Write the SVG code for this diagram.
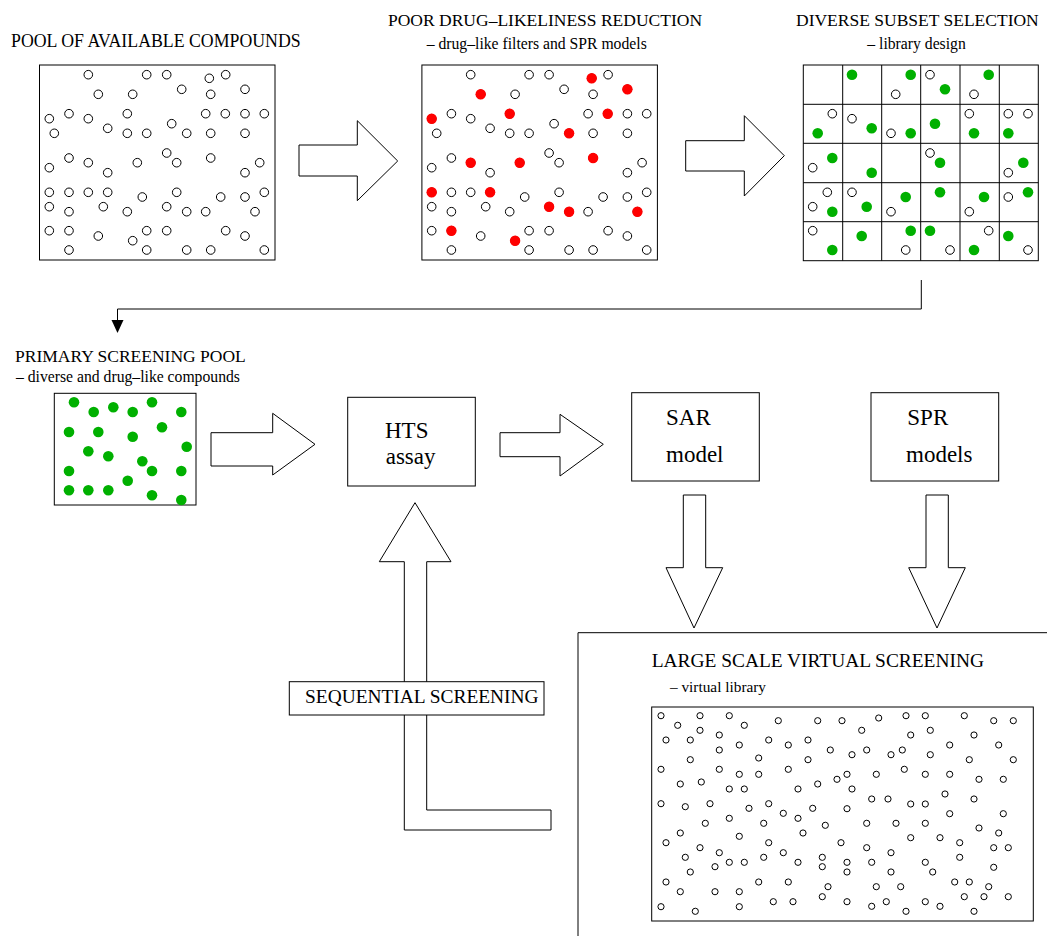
<svg xmlns="http://www.w3.org/2000/svg" xmlns:xlink="http://www.w3.org/1999/xlink" width="1047" height="936" viewBox="0 0 1047 936">
  <style>
    .box{fill:#fff;stroke:#000;stroke-width:1}
    .line{fill:none;stroke:#000;stroke-width:1}
    .blk{fill:#fff;stroke:#000;stroke-width:1}
    .red{fill:#ff0000}
    .grn{fill:#00b000}
    .sm{fill:#fff;stroke:#000;stroke-width:1}
    .t{font-family:'Liberation Serif','Times New Roman',serif;fill:#000}
    .title{font-size:17.5px}
    .sub{font-size:15.7px}
    .lbl{font-size:23px}
    .big{font-size:19.4px}
    .fat{fill:#fff;stroke:#000;stroke-width:1}
  </style>
  <defs>
    <!-- the compound layout shared by the first two panels -->
    <g id="pool-dots">
      <circle class="blk" cx="88.3" cy="74.7" r="4.3"/><circle class="blk" cx="146.7" cy="74.7" r="4.3"/><circle class="blk" cx="166.7" cy="74.7" r="4.3"/><circle class="blk" cx="209.3" cy="78.3" r="4.3"/><circle class="blk" cx="225.7" cy="74.7" r="4.3"/>
      <circle class="blk" cx="98.3" cy="94.3" r="4.3"/><circle class="blk" cx="132.7" cy="94.3" r="4.3"/><circle class="blk" cx="181.7" cy="89.3" r="4.3"/><circle class="blk" cx="210.7" cy="94.3" r="4.3"/><circle class="blk" cx="245" cy="89.3" r="4.3"/>
      <circle class="blk" cx="49.3" cy="118.7" r="4.3"/><circle class="blk" cx="69" cy="113.7" r="4.3"/><circle class="blk" cx="88.3" cy="118.7" r="4.3"/><circle class="blk" cx="127.3" cy="113.7" r="4.3"/><circle class="blk" cx="205.7" cy="113.7" r="4.3"/><circle class="blk" cx="225.3" cy="113.7" r="4.3"/><circle class="blk" cx="245" cy="113.7" r="4.3"/><circle class="blk" cx="264.3" cy="113.7" r="4.3"/>
      <circle class="blk" cx="54.3" cy="133.3" r="4.3"/><circle class="blk" cx="107.7" cy="128.3" r="4.3"/><circle class="blk" cx="127.3" cy="133.3" r="4.3"/><circle class="blk" cx="146.7" cy="133.3" r="4.3"/><circle class="blk" cx="171.7" cy="123.7" r="4.3"/><circle class="blk" cx="186.7" cy="133.3" r="4.3"/><circle class="blk" cx="210.7" cy="133.3" r="4.3"/><circle class="blk" cx="245" cy="133.3" r="4.3"/>
      <circle class="blk" cx="49.3" cy="167.7" r="4.3"/><circle class="blk" cx="69" cy="158" r="4.3"/><circle class="blk" cx="88.3" cy="162.7" r="4.3"/><circle class="blk" cx="107.7" cy="172.7" r="4.3"/><circle class="blk" cx="137.3" cy="162.7" r="4.3"/><circle class="blk" cx="166.7" cy="153" r="4.3"/><circle class="blk" cx="176.7" cy="162.7" r="4.3"/><circle class="blk" cx="210.7" cy="158" r="4.3"/><circle class="blk" cx="245" cy="172.7" r="4.3"/><circle class="blk" cx="259.7" cy="162.7" r="4.3"/>
      <circle class="blk" cx="49.3" cy="192.3" r="4.3"/><circle class="blk" cx="69" cy="192.3" r="4.3"/><circle class="blk" cx="88.3" cy="192.3" r="4.3"/><circle class="blk" cx="107.7" cy="192.3" r="4.3"/><circle class="blk" cx="142.3" cy="197" r="4.3"/><circle class="blk" cx="176.7" cy="192.3" r="4.3"/><circle class="blk" cx="220.7" cy="197" r="4.3"/><circle class="blk" cx="245" cy="197" r="4.3"/><circle class="blk" cx="264.3" cy="192.3" r="4.3"/>
      <circle class="blk" cx="49.3" cy="206.7" r="4.3"/><circle class="blk" cx="69" cy="211.7" r="4.3"/><circle class="blk" cx="103.3" cy="206.7" r="4.3"/><circle class="blk" cx="127.3" cy="211.7" r="4.3"/><circle class="blk" cx="166.7" cy="206.7" r="4.3"/><circle class="blk" cx="186.7" cy="211.7" r="4.3"/><circle class="blk" cx="205.7" cy="211.7" r="4.3"/><circle class="blk" cx="255" cy="211.7" r="4.3"/>
      <circle class="blk" cx="49.3" cy="230.7" r="4.3"/><circle class="blk" cx="69" cy="230.7" r="4.3"/><circle class="blk" cx="98.3" cy="236" r="4.3"/><circle class="blk" cx="132.7" cy="240.7" r="4.3"/><circle class="blk" cx="146.7" cy="230.7" r="4.3"/><circle class="blk" cx="166.7" cy="230.7" r="4.3"/><circle class="blk" cx="225.7" cy="230.7" r="4.3"/><circle class="blk" cx="245" cy="236" r="4.3"/>
      <circle class="blk" cx="69" cy="250" r="4.3"/><circle class="blk" cx="146.7" cy="250" r="4.3"/><circle class="blk" cx="186.7" cy="250" r="4.3"/><circle class="blk" cx="210.7" cy="250" r="4.3"/><circle class="blk" cx="264.3" cy="250" r="4.3"/>
    </g>
  </defs>

  <!-- connectors: block arrows and the routed line -->
  <g id="connectors">
    <polygon class="fat" points="299,145 357.3,145 357.3,120.7 397.7,161 357.3,200.7 357.3,176 299,176"/>
    <polygon class="fat" points="685.7,140.7 744.3,140.7 744.3,115.7 784.3,155.7 744.3,196 744.3,171 685.7,171"/>
    <polyline class="line" points="921.3,280 921.3,309 117.5,309 117.5,321"/>
    <polygon fill="#000" points="111.5,320 123.5,320 117.5,333"/>
    <polygon class="fat" points="211,432.7 272.7,432.7 272.7,413.3 315,444.3 272.7,475 272.7,466 211,466"/>
    <polygon class="fat" points="500,432.7 560,432.7 560,414.3 603.3,444.3 560,476 560,456.7 500,456.7"/>
    <polygon class="fat" points="683.3,495 705.7,495 705.7,567.7 722.7,567.7 694,628 666,567.7 683.3,567.7"/>
    <polygon class="fat" points="926,495 948.3,495 948.3,567.7 965.3,567.7 937,628 908.7,567.7 926,567.7"/>
    <polygon class="fat" points="415,502.7 451,561.7 426.7,561.7 426.7,810 551,810 551,830 404.3,830 404.3,561.7 379.3,561.7"/>
  </g>

  <!-- pool of available compounds -->
  <g id="pool">
    <text class="t" style="font-size:17.8px" x="11" y="47">POOL OF AVAILABLE COMPOUNDS</text>
    <rect class="box" x="39.5" y="65" width="235.5" height="195"/>
    <use xlink:href="#pool-dots"/>
  </g>

  <!-- reduction of poor drug-likeness -->
  <g id="reduction">
    <text class="t title" x="388" y="26">POOR DRUG–LIKELINESS REDUCTION</text>
    <text class="t sub" x="426.7" y="49">– drug–like filters and SPR models</text>
    <rect class="box" x="421.9" y="65" width="235.5" height="195"/>
    <use xlink:href="#pool-dots" transform="translate(382.4,0)"/>
    <g class="red" transform="translate(382.4,0)">
      <circle cx="209.3" cy="78.3" r="5.2"/><circle cx="98.3" cy="94.3" r="5.2"/><circle cx="245" cy="89.3" r="5.2"/>
      <circle cx="49.3" cy="118.7" r="5.2"/><circle cx="127.3" cy="113.7" r="5.2"/><circle cx="225.3" cy="113.7" r="5.2"/>
      <circle cx="186.7" cy="133.3" r="5.2"/><circle cx="88.3" cy="162.7" r="5.2"/><circle cx="137.3" cy="162.7" r="5.2"/>
      <circle cx="210.7" cy="158" r="5.2"/><circle cx="49.3" cy="192.3" r="5.2"/><circle cx="107.7" cy="192.3" r="5.2"/>
      <circle cx="166.7" cy="206.7" r="5.2"/><circle cx="186.7" cy="211.7" r="5.2"/><circle cx="255" cy="211.7" r="5.2"/>
      <circle cx="69" cy="230.7" r="5.2"/><circle cx="132.7" cy="240.7" r="5.2"/>
    </g>
  </g>

  <!-- diverse subset selection on a 6 x 5 cell grid -->
  <g id="subset">
    <text class="t title" x="796" y="26">DIVERSE SUBSET SELECTION</text>
    <text class="t sub" x="867.3" y="49">– library design</text>
    <rect class="box" x="803.3" y="65" width="235" height="195.7"/>
    <path class="line" d="M842.7,65V260.7M881.7,65V260.7M920.7,65V260.7M960,65V260.7M999.3,65V260.7M803.3,104.3H1038.3M803.3,143.3H1038.3M803.3,182.7H1038.3M803.3,221.7H1038.3"/>
    <g>
      <circle class="blk" cx="895.7" cy="94.3" r="4.3"/><circle class="blk" cx="930" cy="74.7" r="4.3"/><circle class="blk" cx="974" cy="94.3" r="4.3"/>
      <circle class="blk" cx="832.3" cy="113.7" r="4.3"/><circle class="blk" cx="852" cy="118.7" r="4.3"/><circle class="blk" cx="891" cy="133.3" r="4.3"/><circle class="blk" cx="969.3" cy="113.7" r="4.3"/><circle class="blk" cx="1008.3" cy="113.7" r="4.3"/><circle class="blk" cx="1028" cy="113.7" r="4.3"/>
      <circle class="blk" cx="812.7" cy="167.7" r="4.3"/><circle class="blk" cx="930" cy="153" r="4.3"/><circle class="blk" cx="1008.3" cy="172.7" r="4.3"/>
      <circle class="blk" cx="827.3" cy="192.3" r="4.3"/><circle class="blk" cx="812.7" cy="206.7" r="4.3"/><circle class="blk" cx="852" cy="192.3" r="4.3"/><circle class="blk" cx="891" cy="211.7" r="4.3"/><circle class="blk" cx="969.3" cy="211.7" r="4.3"/><circle class="blk" cx="1008.3" cy="197" r="4.3"/>
      <circle class="blk" cx="812.7" cy="230.7" r="4.3"/><circle class="blk" cx="905.7" cy="250" r="4.3"/><circle class="blk" cx="950" cy="250" r="4.3"/><circle class="blk" cx="988.7" cy="230.7" r="4.3"/><circle class="blk" cx="1028" cy="250" r="4.3"/>
    </g>
    <g class="grn">
      <circle cx="852" cy="74.7" r="5.3"/><circle cx="910.7" cy="74.7" r="5.3"/><circle cx="945" cy="89.3" r="5.3"/><circle cx="988.7" cy="74.7" r="5.3"/>
      <circle cx="817.7" cy="133.3" r="5.3"/><circle cx="871.7" cy="128.3" r="5.3"/><circle cx="910.7" cy="133.3" r="5.3"/><circle cx="935" cy="123.7" r="5.3"/><circle cx="974" cy="133.3" r="5.3"/><circle cx="1008.3" cy="133.3" r="5.3"/>
      <circle cx="832.3" cy="158" r="5.3"/><circle cx="871.7" cy="172.7" r="5.3"/><circle cx="940" cy="162.7" r="5.3"/><circle cx="1023.3" cy="162.7" r="5.3"/>
      <circle cx="832.3" cy="211.7" r="5.3"/><circle cx="866.7" cy="206.7" r="5.3"/><circle cx="905.7" cy="197" r="5.3"/><circle cx="940" cy="192.3" r="5.3"/><circle cx="984" cy="197" r="5.3"/><circle cx="1028" cy="192.3" r="5.3"/>
      <circle cx="832.3" cy="250" r="5.3"/><circle cx="861.7" cy="236" r="5.3"/><circle cx="910.7" cy="230.7" r="5.3"/><circle cx="930" cy="230.7" r="5.3"/><circle cx="974" cy="250" r="5.3"/><circle cx="1008.3" cy="236" r="5.3"/>
    </g>
  </g>

  <!-- primary screening pool -->
  <g id="primary">
    <text class="t title" x="15" y="362">PRIMARY SCREENING POOL</text>
    <text class="t sub" x="16" y="382">– diverse and drug–like compounds</text>
    <rect class="box" x="54.3" y="393.3" width="141.7" height="111.7"/>
    <g class="grn">
      <circle cx="74" cy="402.3" r="5.3"/><circle cx="93.7" cy="412" r="5.3"/><circle cx="113.3" cy="407.3" r="5.3"/><circle cx="132.7" cy="412" r="5.3"/><circle cx="152" cy="402.3" r="5.3"/><circle cx="181.3" cy="412" r="5.3"/>
      <circle cx="69" cy="432" r="5.3"/><circle cx="98.3" cy="432" r="5.3"/><circle cx="132.7" cy="436.7" r="5.3"/><circle cx="162" cy="427.3" r="5.3"/><circle cx="186.7" cy="446.7" r="5.3"/>
      <circle cx="88.3" cy="451.3" r="5.3"/><circle cx="108.3" cy="456.3" r="5.3"/><circle cx="142.3" cy="461.3" r="5.3"/>
      <circle cx="69" cy="471" r="5.3"/><circle cx="152" cy="471" r="5.3"/><circle cx="181.3" cy="471" r="5.3"/><circle cx="127.7" cy="480.7" r="5.3"/>
      <circle cx="69" cy="490.3" r="5.3"/><circle cx="88.3" cy="490.3" r="5.3"/><circle cx="108.3" cy="490.3" r="5.3"/><circle cx="152" cy="495.3" r="5.3"/><circle cx="181.3" cy="500" r="5.3"/>
    </g>
  </g>

  <!-- HTS assay -->
  <g id="hts">
    <rect class="box" x="347.7" y="397.3" width="127.6" height="88.7"/>
    <text class="t lbl" x="385" y="437.5">HTS</text>
    <text class="t lbl" x="385.7" y="463.5">assay</text>
  </g>

  <!-- SAR model -->
  <g id="sar">
    <rect class="box" x="631.7" y="392.7" width="127.6" height="88.3"/>
    <text class="t lbl" x="666" y="425">SAR</text>
    <text class="t lbl" x="666" y="461.7">model</text>
  </g>

  <!-- SPR models -->
  <g id="spr">
    <rect class="box" x="871" y="392.7" width="127.7" height="88.3"/>
    <text class="t lbl" x="907.3" y="425">SPR</text>
    <text class="t lbl" x="906" y="461.7">models</text>
  </g>

  <!-- sequential screening label over the feedback arrow -->
  <g id="sequential">
    <rect class="box" x="289.3" y="681.7" width="254.7" height="33.3"/>
    <text class="t big" x="305" y="703.3">SEQUENTIAL SCREENING</text>
  </g>

  <!-- large scale virtual screening panel -->
  <g id="virtual">
    <path class="line" d="M578,936V632.7H1047"/>
    <text class="t big" x="651.7" y="666.7">LARGE SCALE VIRTUAL SCREENING</text>
    <text class="t" style="font-size:15.3px" x="670" y="692">– virtual library</text>
    <rect class="box" x="651.7" y="707" width="381.6" height="214"/>
    <g class="sm">
      <circle cx="661" cy="715.7" r="3.1"/><circle cx="700" cy="715.7" r="3.1"/><circle cx="729.3" cy="715.7" r="3.1"/><circle cx="677.7" cy="725.3" r="3.1"/><circle cx="700" cy="730.3" r="3.1"/><circle cx="744.3" cy="725.3" r="3.1"/><circle cx="778.3" cy="720.7" r="3.1"/><circle cx="817.7" cy="720.7" r="3.1"/>
      <circle cx="666" cy="740" r="3.1"/><circle cx="690.3" cy="740" r="3.1"/><circle cx="719.3" cy="735" r="3.1"/><circle cx="739.3" cy="745" r="3.1"/><circle cx="768.7" cy="740" r="3.1"/><circle cx="788.3" cy="745" r="3.1"/><circle cx="808" cy="740" r="3.1"/><circle cx="830.3" cy="750" r="3.1"/><circle cx="719.3" cy="750" r="3.1"/>
      <circle cx="690.3" cy="759.7" r="3.1"/><circle cx="758.7" cy="758" r="3.1"/><circle cx="808" cy="759.7" r="3.1"/>
      <circle cx="661" cy="769.3" r="3.1"/><circle cx="719.3" cy="769.3" r="3.1"/><circle cx="739.3" cy="774.3" r="3.1"/><circle cx="758.7" cy="774.3" r="3.1"/><circle cx="788.3" cy="769.3" r="3.1"/>
      <circle cx="680.3" cy="784" r="3.1"/><circle cx="701.3" cy="782" r="3.1"/><circle cx="729.3" cy="789" r="3.1"/><circle cx="744.3" cy="789" r="3.1"/><circle cx="798" cy="789" r="3.1"/><circle cx="817.7" cy="784" r="3.1"/><circle cx="837" cy="779.3" r="3.1"/>
      <circle cx="661" cy="803.7" r="3.1"/><circle cx="685.3" cy="806.7" r="3.1"/><circle cx="710" cy="803.7" r="3.1"/><circle cx="749" cy="808.3" r="3.1"/><circle cx="768.7" cy="803.7" r="3.1"/><circle cx="783.3" cy="813.3" r="3.1"/><circle cx="798" cy="818.3" r="3.1"/><circle cx="812.7" cy="808.3" r="3.1"/>
      <circle cx="705.3" cy="823.3" r="3.1"/><circle cx="729.3" cy="818.3" r="3.1"/><circle cx="763.7" cy="823.3" r="3.1"/><circle cx="825.3" cy="825.3" r="3.1"/>
      <circle cx="680.3" cy="833" r="3.1"/><circle cx="739.3" cy="836.3" r="3.1"/><circle cx="803" cy="833" r="3.1"/>
      <circle cx="666" cy="842.7" r="3.1"/><circle cx="768.7" cy="842.7" r="3.1"/><circle cx="841" cy="842.7" r="3.1"/>
      <circle cx="700" cy="847.7" r="3.1"/><circle cx="719.3" cy="852.7" r="3.1"/><circle cx="783.3" cy="852.7" r="3.1"/>
      <circle cx="685.3" cy="857.3" r="3.1"/><circle cx="763.7" cy="857.3" r="3.1"/><circle cx="822.3" cy="857.3" r="3.1"/>
      <circle cx="729.3" cy="862.3" r="3.1"/><circle cx="744.3" cy="862.3" r="3.1"/><circle cx="798" cy="862.3" r="3.1"/><circle cx="822.3" cy="866.7" r="3.1"/><circle cx="715" cy="866.7" r="3.1"/>
      <circle cx="690.3" cy="872" r="3.1"/>
      <circle cx="666" cy="882" r="3.1"/><circle cx="758.7" cy="882" r="3.1"/><circle cx="788.3" cy="882" r="3.1"/><circle cx="828" cy="886.7" r="3.1"/>
      <circle cx="680.3" cy="891.7" r="3.1"/><circle cx="715" cy="891.7" r="3.1"/><circle cx="739.3" cy="891.7" r="3.1"/><circle cx="822.3" cy="896.7" r="3.1"/>
      <circle cx="661" cy="906.7" r="3.1"/><circle cx="695.3" cy="911.3" r="3.1"/><circle cx="739.3" cy="906.7" r="3.1"/><circle cx="773.3" cy="901.7" r="3.1"/><circle cx="793" cy="901.7" r="3.1"/>
      <circle cx="842" cy="720.7" r="3.1"/><circle cx="878.7" cy="718" r="3.1"/><circle cx="906" cy="715.7" r="3.1"/><circle cx="925.3" cy="715.7" r="3.1"/><circle cx="964.3" cy="715.7" r="3.1"/><circle cx="993.7" cy="720.7" r="3.1"/><circle cx="1013.3" cy="720.7" r="3.1"/>
      <circle cx="861.7" cy="730.3" r="3.1"/><circle cx="910.7" cy="735" r="3.1"/><circle cx="930.3" cy="730.3" r="3.1"/><circle cx="974" cy="735" r="3.1"/>
      <circle cx="852" cy="754.7" r="3.1"/><circle cx="866.7" cy="750" r="3.1"/><circle cx="891" cy="754.7" r="3.1"/><circle cx="902.3" cy="750" r="3.1"/><circle cx="930.3" cy="754.7" r="3.1"/><circle cx="949.7" cy="745" r="3.1"/><circle cx="998.7" cy="745" r="3.1"/><circle cx="969.3" cy="759.7" r="3.1"/><circle cx="1013.3" cy="759.7" r="3.1"/>
      <circle cx="847" cy="774.3" r="3.1"/><circle cx="876.3" cy="774.3" r="3.1"/><circle cx="904.3" cy="769.3" r="3.1"/><circle cx="925.3" cy="774.3" r="3.1"/><circle cx="949.7" cy="774.3" r="3.1"/><circle cx="979" cy="779.3" r="3.1"/><circle cx="1003.3" cy="779.3" r="3.1"/>
      <circle cx="852" cy="789" r="3.1"/><circle cx="871.7" cy="799" r="3.1"/><circle cx="888" cy="799" r="3.1"/><circle cx="910.7" cy="804" r="3.1"/><circle cx="925.3" cy="804" r="3.1"/><circle cx="945" cy="794" r="3.1"/><circle cx="974" cy="799" r="3.1"/>
      <circle cx="847" cy="808.7" r="3.1"/><circle cx="949.7" cy="813.7" r="3.1"/><circle cx="1003.3" cy="813.7" r="3.1"/>
      <circle cx="866.7" cy="823.3" r="3.1"/><circle cx="896" cy="823.3" r="3.1"/><circle cx="925.3" cy="823.3" r="3.1"/><circle cx="979" cy="828" r="3.1"/><circle cx="998.7" cy="833" r="3.1"/>
      <circle cx="910.7" cy="837.7" r="3.1"/><circle cx="940" cy="837.7" r="3.1"/>
      <circle cx="866.7" cy="847.7" r="3.1"/><circle cx="959.7" cy="842.7" r="3.1"/><circle cx="993.7" cy="847.7" r="3.1"/><circle cx="1008.3" cy="847.7" r="3.1"/><circle cx="891" cy="852.7" r="3.1"/>
      <circle cx="847" cy="862.3" r="3.1"/><circle cx="847" cy="872" r="3.1"/><circle cx="871.7" cy="862.3" r="3.1"/><circle cx="925.3" cy="862.3" r="3.1"/><circle cx="959.7" cy="857.3" r="3.1"/><circle cx="891" cy="872" r="3.1"/><circle cx="932.7" cy="872" r="3.1"/><circle cx="993.7" cy="867.3" r="3.1"/>
      <circle cx="876.3" cy="886.7" r="3.1"/><circle cx="900.7" cy="886.7" r="3.1"/><circle cx="954.7" cy="882" r="3.1"/><circle cx="969.3" cy="882" r="3.1"/><circle cx="988.7" cy="886.7" r="3.1"/>
      <circle cx="847" cy="901.7" r="3.1"/><circle cx="871.7" cy="906.3" r="3.1"/><circle cx="886.3" cy="901.7" r="3.1"/><circle cx="925.3" cy="901.7" r="3.1"/><circle cx="940" cy="906.3" r="3.1"/><circle cx="964.3" cy="896.7" r="3.1"/><circle cx="984" cy="896.7" r="3.1"/><circle cx="1008.3" cy="896.7" r="3.1"/>
      <circle cx="906" cy="911.3" r="3.1"/><circle cx="974" cy="911.3" r="3.1"/>
    </g>
  </g>
</svg>
